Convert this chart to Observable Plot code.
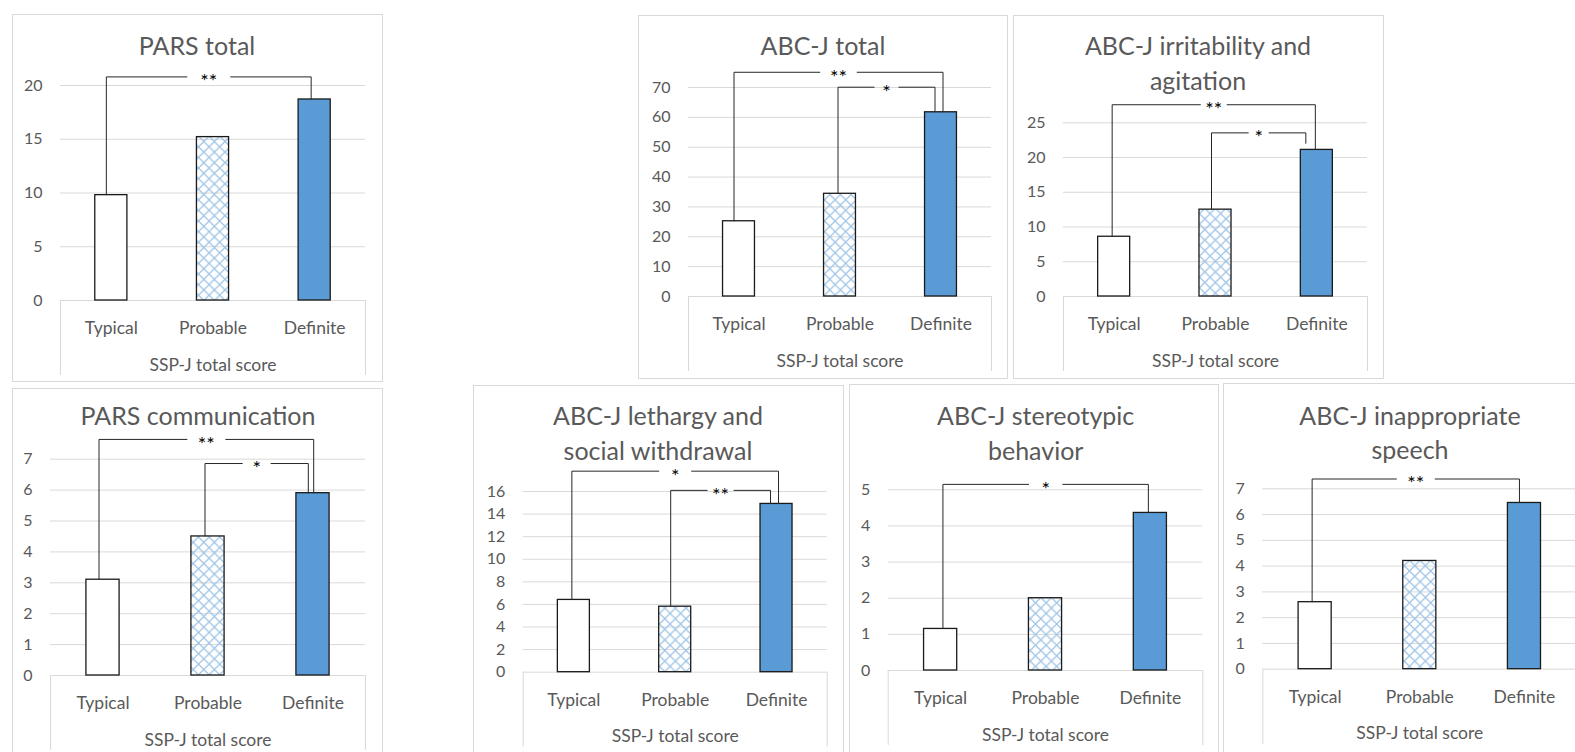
<!DOCTYPE html>
<html><head><meta charset="utf-8">
<script src="https://cdn.jsdelivr.net/npm/d3@7"></script>
<script src="https://cdn.jsdelivr.net/npm/@observablehq/plot@0.6"></script>
<style>
body{margin:0;width:1575px;height:752px;overflow:hidden;background:#fff;font-family:Lato,"Open Sans",sans-serif;position:relative}
.frame{position:absolute;border:1px solid #d9d9d9;box-sizing:border-box;background:#fff}
.tl{position:absolute;text-align:center;color:#595959;font-size:25px;line-height:20px;height:20px;white-space:nowrap;font-family:Lato,"Open Sans",sans-serif}
.plot{position:absolute}
</style></head><body>
<svg width="0" height="0" style="position:absolute;left:0;top:0"><defs>
<pattern id="xhatch" patternUnits="userSpaceOnUse" width="10.6" height="10.6">
<path d="M0,5.3L5.3,0L10.6,5.3L5.3,10.6Z" fill="none" stroke="#9DC3E6" stroke-width="1.2"/>
</pattern></defs></svg>
<script>
const categories = ["Typical", "Probable", "Definite"];
const axisTitle = "SSP-J total score";

const parsTotal = [9.8, 15.2, 18.7];
const abcTotal = [25.2, 34.4, 61.7];
const abcIrritability = [8.6, 12.5, 21.1];
const parsCommunication = [3.1, 4.5, 5.9];
const abcLethargy = [6.4, 5.8, 14.9];
const abcStereotypic = [1.15, 2.0, 4.36];
const abcSpeech = [2.6, 4.2, 6.45];

const parsTotalTicks = [0, 5, 10, 15, 20];
const abcTotalTicks = [0, 10, 20, 30, 40, 50, 60, 70];
const abcIrritabilityTicks = [0, 5, 10, 15, 20, 25];
const parsCommunicationTicks = [0, 1, 2, 3, 4, 5, 6, 7];
const abcLethargyTicks = [0, 2, 4, 6, 8, 10, 12, 14, 16];
const abcStereotypicTicks = [0, 1, 2, 3, 4, 5];
const abcSpeechTicks = [0, 1, 2, 3, 4, 5, 6, 7];

// significance brackets: [from index, to index, bracket level, label, (optional right-leg end)]
const parsTotalSig = [[0, 2, 20.8, "**"]];
const abcTotalSig = [[0, 2, 75.1, "**"], [1, 2, 70.1, "*"]];
const abcIrritabilitySig = [[0, 2, 27.6, "**"], [1, 2, 23.55, "*", 22.0]];
const parsCommunicationSig = [[0, 2, 7.64, "**"], [1, 2, 6.86, "*"]];
const abcLethargySig = [[0, 2, 17.8, "*"], [1, 2, 16.1, "**"]];
const abcStereotypicSig = [[0, 2, 5.15, "*"]];
const abcSpeechSig = [[0, 2, 7.38, "**"]];

// layout (page pixels)
const panels = [
  {title: ["PARS total"], values: parsTotal, ticks: parsTotalTicks, sig: parsTotalSig,
   frame: [12, 14, 383, 382], titleX: 197, titleY: [55], svgTop: 62, plot: [60, 365, 85, 300],
   legDx: [[-5, -3.5]], gap: [21.5]},
  {title: ["ABC-J total"], values: abcTotal, ticks: abcTotalTicks, sig: abcTotalSig,
   frame: [638, 15, 1008, 379], titleX: 823, titleY: [55], svgTop: 62, plot: [688, 991, 87, 296],
   legDx: [[-5, 2], [-2, -6]], gap: [18.3, 12]},
  {title: ["ABC-J irritability and", "agitation"], values: abcIrritability, ticks: abcIrritabilityTicks, sig: abcIrritabilitySig,
   frame: [1013, 15, 1384, 379], titleX: 1198, titleY: [55, 89.5], svgTop: 97, plot: [1063, 1367, 122.3, 296],
   legDx: [[-2, -1.5], [-4, -11]], gap: [13, 10]},
  {title: ["PARS communication"], values: parsCommunication, ticks: parsCommunicationTicks, sig: parsCommunicationSig,
   frame: [12, 388, 383, 760], titleX: 198, titleY: [425], svgTop: 431, plot: [50, 365, 458.7, 675],
   legDx: [[-4, 0.7], [-3, -4.7]], gap: [19, 14]},
  {title: ["ABC-J lethargy and", "social withdrawal"], values: abcLethargy, ticks: abcLethargyTicks, sig: abcLethargySig,
   frame: [473, 385, 844, 760], titleX: 658, titleY: [425, 460], svgTop: 465, plot: [522.7, 826.7, 491, 671.7],
   legDx: [[-2, 2], [-4.5, -6]], gap: [16, 13]},
  {title: ["ABC-J stereotypic", "behavior"], values: abcStereotypic, ticks: abcStereotypicTicks, sig: abcStereotypicSig,
   frame: [849, 384, 1219, 760], titleX: 1035.7, titleY: [424.3, 459.3], svgTop: 465, plot: [887.7, 1202.3, 489.3, 670],
   legDx: [[2.3, -2]], gap: [16.7]},
  {title: ["ABC-J inappropriate", "speech"], values: abcSpeech, ticks: abcSpeechTicks, sig: abcSpeechSig,
   frame: [1223, 383, 1594, 760], titleX: 1410, titleY: [424.3, 458.3], svgTop: 465, plot: [1262.3, 1576.3, 488.3, 668.7],
   legDx: [[-3, -5]], gap: [19]}
];

const FONT = "Lato, 'Open Sans', sans-serif";
const TEXT = "#595959";

for (const p of panels) {
  const [fx0, fy0, fx1, fy1] = p.frame;
  const fr = document.createElement("div");
  fr.className = "frame";
  Object.assign(fr.style, {left: fx0 + "px", top: fy0 + "px", width: (fx1 - fx0) + "px", height: (fy1 - fy0) + "px"});
  document.body.append(fr);

  p.title.forEach((t, k) => {
    const d = document.createElement("div");
    d.className = "tl";
    d.textContent = t;
    Object.assign(d.style, {left: (p.titleX - 200) + "px", width: "400px", top: (p.titleY[k] - 19.7) + "px"});
    document.body.append(d);
  });

  const [px0, px1, pyT, pyB] = p.plot;
  const sx = fx0 + 1, sy = p.svgTop;
  const W = fx1 - fx0 - 2;
  const H = pyB + 80 - sy;
  const yMax = p.ticks[p.ticks.length - 1];
  const step = (px1 - px0) / 3;
  const ppu = (pyB - pyT) / yMax;
  const hw = 0.158;
  const bars = p.values.map((v, i) => ({i, v, cat: categories[i]}));
  const segs = [], labels = [];
  p.sig.forEach(([a, b, lev, lab, endB], k) => {
    const xa = a + p.legDx[k][0] / step, xb = b + p.legDx[k][1] / step;
    const mid = (xa + xb) / 2, g = p.gap[k] / step;
    const va = p.values[a], vb = endB ?? p.values[b];
    segs.push({x1: xa, y1: va, x2: xa, y2: lev}, {x1: xa, y1: lev, x2: mid - g, y2: lev},
              {x1: mid + g, y1: lev, x2: xb, y2: lev}, {x1: xb, y1: lev, x2: xb, y2: vb});
    labels.push({x: mid, y: lev, text: lab});
  });
  const yLow = -75 / ppu;

  const chart = Plot.plot({
    width: W, height: H,
    marginLeft: px0 - sx, marginRight: sx + W - px1, marginTop: pyT - sy, marginBottom: sy + H - pyB,
    x: {domain: [-0.5, 2.5]},
    y: {domain: [0, yMax]},
    color: {domain: categories, range: ["#ffffff", "url(#xhatch)", "#5B9BD5"]},
    style: {fontFamily: FONT, background: "transparent", overflow: "visible"},
    marks: [
      Plot.ruleY(p.ticks, {stroke: "#d9d9d9", strokeWidth: 1}),
      Plot.ruleX([-0.5, 2.5], {y1: 0, y2: yLow, stroke: "#d9d9d9", strokeWidth: 1}),
      Plot.rect(bars, {x1: d => d.i - hw, x2: d => d.i + hw, y1: 0, y2: "v", fill: "cat", stroke: "#1a1a1a", strokeWidth: 1.3}),
      Plot.link(segs, {x1: "x1", y1: "y1", x2: "x2", y2: "y2", stroke: "#262626", strokeWidth: 1}),
      Plot.text(labels, {x: "x", y: "y", text: "text", dy: 5, fontSize: 20, fill: "#000000"}),
      Plot.axisY({ticks: p.ticks, tickFormat: d => String(d), tickSize: 0, tickPadding: 18, fontSize: 16, color: TEXT, label: null}),
      Plot.axisX({ticks: [0, 1, 2], tickFormat: i => categories[i], tickSize: 0, tickPadding: 21, fontSize: 17.5, color: TEXT, label: null}),
      Plot.text([axisTitle], {frameAnchor: "bottom", lineAnchor: "middle", dy: 64.4, fontSize: 17.5, fill: TEXT})
    ]
  });
  const holder = document.createElement("div");
  holder.className = "plot";
  Object.assign(holder.style, {left: sx + "px", top: sy + "px", width: W + "px", height: H + "px"});
  chart.style.maxWidth = "none";
  holder.append(chart);
  document.body.append(holder);
}
</script>
</body></html>
